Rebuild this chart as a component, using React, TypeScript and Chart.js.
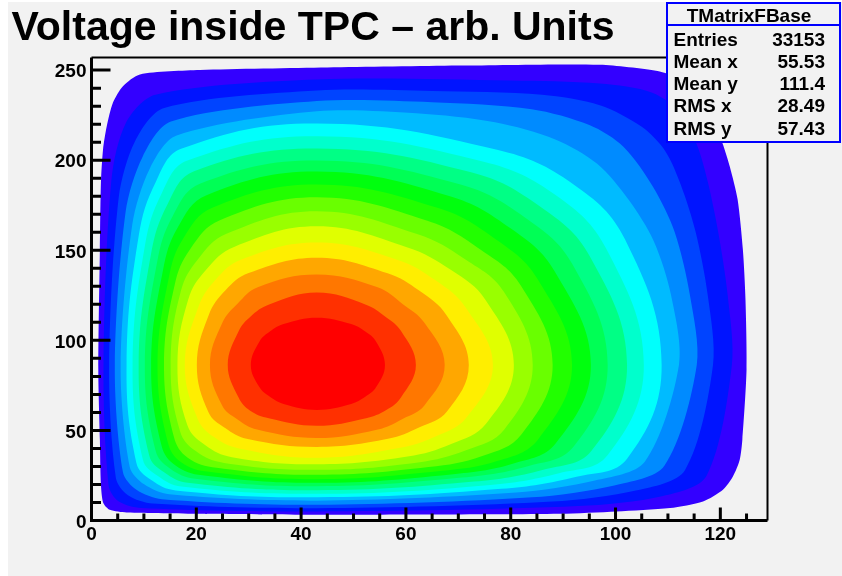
import React, { useEffect, useRef } from 'react';
import { Chart, registerables } from 'chart.js';

Chart.register(...registerables);

const FONT = "'Liberation Sans', Arial, Helvetica, sans-serif";

const titleText = 'Voltage inside TPC \u2013 arb. Units';

const xMajorTicks = [0, 20, 40, 60, 80, 100, 120];
const xMinorTicks = [5, 10, 15, 25, 30, 35, 45, 50, 55, 65, 70, 75, 85, 90, 95, 105, 110, 115, 125];
const yMajorTicks = [0, 50, 100, 150, 200, 250];
const yMinorTicks = [10, 20, 30, 40, 60, 70, 80, 90, 110, 120, 130, 140, 160, 170, 180, 190, 210, 220, 230, 240];

const statsTitle = 'TMatrixFBase';
const statsLabels = ['Entries', 'Mean x', 'Mean y', 'RMS x', 'RMS y'];
const statsValues = ['33153', '55.53', '111.4', '28.49', '57.43'];

const levelColors = [
  '#3300ff', '#0014ff', '#0044ff', '#008bff', '#00bbff', '#00fffc', '#00ffcc', '#00ff85', '#00ff55', '#00ff0e',
  '#22ff00', '#69ff00', '#99ff00', '#e0ff00', '#ffee00', '#ffa700', '#ff7700', '#ff3000', '#ff0000',
];

// closed contour boundaries (x, y) of each filled level, outermost first
const level01 = [[1.3, 83.7], [1.6, 44.8], [1.8, 20], [2.25, 9.7], [3.5, 5.9], [6.7, 4.4], [20.7, 3.7], [39.8, 3.2], [65, 3.3], [89.4, 3.7], [100.2, 5.0], [110.4, 6.9], [116.7, 10.6], [120.5, 17.1], [122.4, 24.4], [123.7, 33.7], [124.2, 44.8], [125.0, 83.7], [124.8, 122.6], [124.3, 150.4], [123.3, 178.2], [121.8, 196.5], [120.5, 208.7], [118.5, 224], [115.5, 237], [112, 245.5], [108, 249.5], [97, 253], [70, 252.5], [45, 251.4], [20.7, 250.0], [9.25, 247.6], [6.0, 241.1], [4.1, 232.0], [2.9, 218.7], [2.2, 206.0], [1.8, 187.6], [1.6, 150.4]];
const level02 = [[122.2, 86.3], [121.4, 125], [119.6, 160], [117.6, 188], [115.6, 208], [112.5, 226], [107, 237.5], [97, 242.5], [80, 244.2], [43, 244.8], [12.21, 236.39], [6.6, 220.94], [3.79, 188.78], [2.29, 86.3], [3.26, 19.45], [5.14, 10.71], [9.5, 6.95], [43, 5.0], [92.84, 8.01], [109.06, 13.64], [117.38, 24.88]];
const level03 = [[118.6, 86.3], [117.6, 125], [115.3, 160], [112.5, 186], [109.5, 205], [105, 218.5], [97, 230.5], [86, 236.3], [65, 238.4], [43, 238.7], [13.87, 229.0], [8.31, 210.54], [5.19, 179.24], [3.36, 86.3], [4.65, 23.61], [6.96, 14.04], [11.71, 9.39], [43, 6.8], [87.92, 10.48], [104.1, 16.76], [113.24, 27.96]];
const level04 = [[115.5, 86.3], [114.2, 125], [111.3, 160], [107.2, 185], [101.5, 207.5], [95, 219.5], [84, 228.3], [65, 232.2], [43, 232.8], [15.16, 221.46], [9.78, 202.08], [6.51, 171.32], [4.45, 86.3], [6.0, 26.84], [8.58, 17.04], [13.43, 11.83], [43, 8.7], [84.03, 12.86], [99.76, 19.47], [109.32, 30.34]];
const level05 = [[112.1, 86.3], [110.6, 125], [107.3, 155], [102.5, 178], [96.5, 198], [88.5, 211.5], [77, 221], [62, 226], [43, 227.1], [16.25, 213.66], [11.09, 195.16], [7.78, 164.28], [5.56, 86.3], [7.3, 29.76], [10.05, 20.07], [14.85, 14.51], [43, 11.0], [81.02, 15.48], [96.06, 22.17], [105.58, 32.59]];
const level06 = [[108.8, 86.3], [101.8, 156.08], [91.87, 186.84], [77.39, 205.78], [43, 220.4], [17.24, 206.5], [12.31, 188.22], [9.0, 157.9], [6.69, 86.3], [8.57, 31.92], [11.4, 22.46], [16.06, 16.71], [43, 12.9], [78.2, 17.59], [92.56, 24.31], [102.2, 34.31]];
const level07 = [[105.4, 86.3], [98.18, 151.08], [88.62, 180.6], [74.83, 199.2], [43, 213.3], [18.31, 199.76], [13.43, 181.74], [10.19, 152.44], [7.84, 86.3], [9.8, 33.83], [12.67, 24.67], [17.16, 18.81], [43, 14.8], [75.58, 19.6], [89.22, 26.22], [98.47, 36.18]];
const level08 = [[102.2, 86.3], [95.08, 146.7], [85.53, 174.4], [72.43, 193.26], [43, 206.5], [19.58, 193.84], [14.49, 175.44], [11.35, 147.78], [9.0, 86.3], [11.02, 36.03], [13.85, 26.76], [18.37, 20.94], [43, 16.8], [73.03, 21.62], [86.05, 28.07], [95.37, 38.52]];
const level09 = [[98.5, 86.3], [91.75, 142.32], [82.7, 168.2], [70.25, 186.6], [43, 199.8], [20.8, 187.04], [15.51, 169.08], [12.51, 143.24], [10.18, 86.3], [12.22, 38.81], [14.97, 28.86], [19.8, 23.2], [43, 19.0], [70.7, 23.8], [83.08, 29.98], [91.97, 40.87]];
const level10 = [[95.3, 86.3], [88.4, 138.22], [80.03, 162.02], [68.24, 180.16], [43, 193.7], [21.95, 180.54], [16.48, 162.8], [13.64, 138.94], [11.38, 86.3], [13.4, 41.2], [16.04, 30.58], [21.15, 25.1], [43, 20.9], [68.6, 25.6], [80.38, 31.5], [88.6, 42.86]];
const level11 = [[91.7, 86.3], [85.06, 134.26], [77.27, 155.82], [66.17, 173.44], [43, 186.5], [23.16, 173.76], [17.47, 156.4], [14.76, 134.84], [12.6, 86.3], [14.56, 43.46], [17.11, 32.35], [22.41, 27.01], [43, 22.9], [66.49, 27.43], [77.54, 33.1], [85.22, 45.03]];
const level12 = [[88.0, 86.3], [81.92, 130.48], [74.34, 150.16], [64.09, 166.38], [43, 179.4], [24.5, 166.64], [18.82, 150.58], [15.88, 130.9], [13.84, 86.3], [15.72, 46.49], [18.36, 34.89], [23.89, 29.34], [43, 25.4], [64.32, 29.68], [74.57, 35.85], [82.03, 47.77]];
const level13 = [[84.2, 86.3], [78.69, 126.92], [71.43, 144.74], [62.13, 159.0], [43, 171.7], [25.75, 159.2], [20.32, 145.08], [17.04, 127.22], [15.1, 86.3], [16.9, 49.57], [19.96, 38.37], [25.31, 31.97], [43, 28.2], [62.3, 32.26], [71.6, 39.13], [78.78, 50.49]];
const level14 = [[80.6, 86.3], [75.19, 122.42], [68.62, 139.0], [60.17, 151.72], [43, 163.3], [27.2, 151.88], [21.87, 139.24], [18.46, 122.72], [16.4, 86.3], [18.3, 52.86], [21.6, 42.03], [26.8, 35.15], [43, 31.2], [60.3, 35.49], [68.74, 42.59], [75.28, 53.69]];
const level15 = [[76.6, 86.3], [71.46, 118.0], [65.64, 133.3], [58.29, 144.8], [43, 154.3], [28.63, 144.92], [23.63, 133.48], [20.36, 118.18], [17.8, 86.3], [20.24, 56.53], [23.39, 46.29], [28.37, 39.81], [43, 34.8], [58.37, 40.06], [65.74, 46.78], [71.52, 57.06]];
const level16 = [[72.0, 86.3], [67.78, 113.8], [62.52, 127.62], [56.51, 137.28], [43, 145.9], [29.98, 137.38], [25.57, 127.76], [22.36, 113.94], [20.1, 86.3], [22.3, 60.26], [25.43, 51.46], [29.83, 45.2], [43, 40.8], [56.57, 45.32], [62.59, 51.74], [67.83, 60.56]];
const level17 = [[67.4, 86.3], [63.53, 109.72], [59.3, 120.38], [54.6, 129.46], [43, 136.5], [31.72, 129.52], [27.9, 120.5], [24.97, 109.8], [22.6, 86.3], [24.93, 63.78], [27.8, 56.2], [31.59, 50.46], [43, 45.8], [54.64, 50.54], [59.35, 56.4], [63.56, 64.04]];
const level18 = [[61.9, 86.3], [59.07, 105.16], [56.15, 112.96], [52.37, 119.82], [43, 126.5], [33.9, 119.84], [30.27, 113.02], [28.1, 105.2], [26.0, 86.3], [28.07, 68.26], [30.22, 61.04], [33.83, 56.74], [43, 52.6], [52.39, 56.8], [56.18, 61.14], [59.08, 68.4]];
const level19 = [[56.0, 86.3], [54.29, 99.4], [52.25, 104.92], [49.55, 109.08], [43, 112.6], [36.65, 109.08], [34.04, 104.92], [32.06, 99.4], [30.4, 86.3], [32.06, 73.9], [34.04, 68.68], [36.65, 64.72], [43, 61.4], [49.55, 64.72], [52.25, 68.68], [54.29, 73.9]];

const levels = [level01, level02, level03, level04, level05, level06, level07, level08, level09, level10,
  level11, level12, level13, level14, level15, level16, level17, level18, level19];

export default function App() {
  const ref = useRef<HTMLCanvasElement>(null);

  useEffect(() => {
    const canvas = ref.current;
    if (!canvas) return;

    const datasets = levels
      .map((pts, i) => ({
        label: 'level ' + (i + 1),
        data: pts.map(([x, y]) => ({ x, y })),
        showLine: true,
        fill: 'shape',
        backgroundColor: levelColors[i],
        borderColor: levelColors[i],
        borderWidth: 0,
        pointRadius: 0,
        pointHoverRadius: 0,
        tension: i === 0 ? 0.25 : i < 5 ? 0.3 : 0.4,
      }))
      .reverse();

    // make every contour line a closed, smooth loop
    const closeLoops = {
      id: 'closeLoops',
      afterDatasetUpdate(_chart: any, args: any) {
        const line = args && args.meta && args.meta.dataset;
        if (line) {
          line._loop = true;
          line._fullLoop = true;
          line._pointsUpdated = false;
          delete line._segments;
          delete line._path;
        }
      },
    };

    const rootAxes = {
      id: 'rootAxes',
      afterDatasetsDraw(chart: any) {
        const ctx = chart.ctx;
        const xs = chart.scales.x;
        const ys = chart.scales.y;
        const { left, right, top, bottom } = chart.chartArea;
        ctx.save();
        ctx.strokeStyle = '#000';
        ctx.lineWidth = 2;
        ctx.beginPath();
        ctx.moveTo(left, top);
        ctx.lineTo(right, top);
        ctx.lineTo(right, bottom);
        ctx.stroke();
        ctx.lineWidth = 3;
        ctx.beginPath();
        ctx.moveTo(left, top);
        ctx.lineTo(left, bottom);
        ctx.lineTo(right, bottom);
        ctx.stroke();
        ctx.beginPath();
        xMajorTicks.forEach((v) => {
          const p = xs.getPixelForValue(v);
          ctx.moveTo(p, bottom);
          ctx.lineTo(p, bottom - 13);
        });
        xMinorTicks.forEach((v) => {
          const p = xs.getPixelForValue(v);
          ctx.moveTo(p, bottom);
          ctx.lineTo(p, bottom - 7);
        });
        yMajorTicks.forEach((v) => {
          const p = ys.getPixelForValue(v);
          ctx.moveTo(left, p);
          ctx.lineTo(left + 19, p);
        });
        yMinorTicks.forEach((v) => {
          const p = ys.getPixelForValue(v);
          ctx.moveTo(left, p);
          ctx.lineTo(left + 9.5, p);
        });
        ctx.stroke();
        ctx.restore();
      },
      afterDraw(chart: any) {
        const ctx = chart.ctx;
        ctx.save();
        ctx.fillStyle = '#f2f2f2';
        ctx.fillRect(658, 0, 175, 141);
        ctx.strokeStyle = '#0000ff';
        ctx.lineWidth = 2;
        ctx.strokeRect(659, 1, 173, 139);
        ctx.beginPath();
        ctx.moveTo(658, 23);
        ctx.lineTo(833, 23);
        ctx.stroke();
        ctx.fillStyle = '#000';
        ctx.font = 'bold 19px ' + FONT;
        ctx.textBaseline = 'alphabetic';
        ctx.textAlign = 'center';
        ctx.fillText(statsTitle, 741, 19.7);
        statsLabels.forEach((lab, i) => {
          const y = 43.8 + 22.2 * i;
          ctx.textAlign = 'left';
          ctx.fillText(lab, 665.5, y);
          ctx.textAlign = 'right';
          ctx.fillText(statsValues[i], 817, y);
        });
        ctx.restore();
      },
    };

    const tickFont = { family: FONT, size: 19, weight: 'bold' as const };

    const chart = new Chart(canvas, {
      type: 'scatter',
      data: { datasets: datasets as any },
      options: {
        responsive: false,
        animation: false,
        events: [],
        layout: { padding: { left: 3.5, right: 74.5, top: 0, bottom: 0 } },
        plugins: {
          legend: { display: false },
          tooltip: { enabled: false },
          title: {
            display: true,
            text: titleText,
            align: 'start',
            color: '#000',
            font: { family: FONT, size: 41, weight: 'bold' },
            padding: { top: 1.7, bottom: 4.6 },
          },
        },
        scales: {
          x: {
            type: 'linear',
            min: 0,
            max: 129,
            grid: { display: false, drawTicks: false },
            border: { display: false },
            afterBuildTicks: (s: any) => {
              s.ticks = xMajorTicks.map((v) => ({ value: v }));
            },
            afterFit: (s: any) => {
              s.height = 55.5;
            },
            ticks: { color: '#000', font: tickFont, padding: 3, autoSkip: false, maxRotation: 0 },
          },
          y: {
            type: 'linear',
            min: 0,
            max: 257,
            grid: { display: false, drawTicks: false },
            border: { display: false },
            afterBuildTicks: (s: any) => {
              s.ticks = yMajorTicks.map((v) => ({ value: v }));
            },
            afterFit: (s: any) => {
              s.width = 80;
            },
            ticks: { color: '#000', font: tickFont, padding: 5, labelOffset: 2, autoSkip: false },
          },
        },
      },
      plugins: [closeLoops, rootAxes],
    });
    return () => chart.destroy();
  }, []);

  return (
    <div style={{ position: 'absolute', left: 8, top: 2, width: 834, height: 574, background: '#f2f2f2' }}>
      <canvas ref={ref} width={834} height={574} style={{ display: 'block', width: 834, height: 574 }} />
    </div>
  );
}
